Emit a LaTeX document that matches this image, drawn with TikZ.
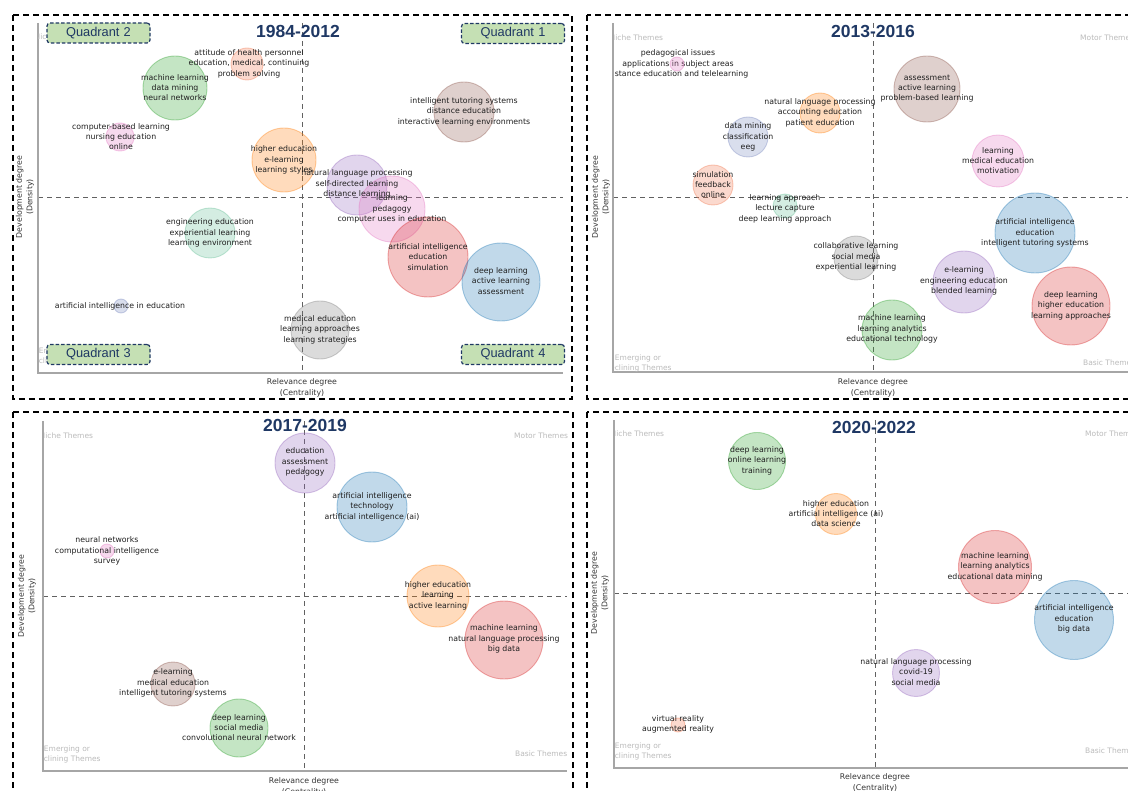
\documentclass[tikz,border=0pt]{standalone}
\usepackage{fontspec}
\setmainfont{DejaVu Sans}
\newfontfamily\qfont{Liberation Sans}
\definecolor{navy}{RGB}{31,56,100}
\definecolor{qgreen}{RGB}{197,224,180}
\definecolor{cblue}{RGB}{31,119,180}
\definecolor{corange}{RGB}{255,127,14}
\definecolor{cgreen}{RGB}{44,160,44}
\definecolor{cred}{RGB}{214,39,40}
\definecolor{cpurple}{RGB}{148,103,189}
\definecolor{cbrown}{RGB}{140,86,75}
\definecolor{cpink}{RGB}{227,119,194}
\definecolor{cgray}{RGB}{127,127,127}
\definecolor{cteal}{RGB}{100,190,150}
\definecolor{clav}{RGB}{120,135,190}
\definecolor{csalmon}{RGB}{240,120,80}
\tikzset{
  frame/.style={draw=black, line width=1.4pt, dash pattern=on 6pt off 4pt},
  axisln/.style={draw=black!35, line width=1.3pt},
  midln/.style={draw=black!62, line width=0.9pt, dash pattern=on 5pt off 4pt},
  bubble/.style={circle, inner sep=0pt, minimum size=#1, line width=0.9pt, fill opacity=0.28, draw opacity=0.38},
  lbl/.style={align=center, font=\fontsize{7.8}{10.4}\selectfont, text=black!88, inner sep=0pt},
  theme/.style={font=\fontsize{7.5}{10}\selectfont, text=black!27, inner sep=0pt},
  themeblk/.style={align=center, font=\fontsize{7.5}{10}\selectfont, text=black!27, inner sep=0pt},
  axlbl/.style={align=center, font=\fontsize{7.8}{10.4}\selectfont, text=black!80, inner sep=0pt},
  ttl/.style={font=\qfont\bfseries\fontsize{17.5}{18}\selectfont, text=navy, inner sep=0pt},
  quad/.style={draw=navy, line width=1.2pt, dash pattern=on 3.5pt off 2pt, rounded corners=3pt, fill=qgreen, minimum width=103pt, minimum height=20pt, font=\qfont\fontsize{12.8}{13}\selectfont, text=navy, inner sep=0pt},
}
\begin{document}
\begin{tikzpicture}[x=1pt,y=-1pt]
\useasboundingbox (0,0) rectangle (1128,791);
\clip (0,0) rectangle (1128,791);
% ---------- frames ----------
\draw[frame] (13,15) rectangle (572,399);
\draw[frame] (587,15) rectangle (1145,399);
\draw[frame] (13,412) rectangle (573,805);
\draw[frame] (587,412) rectangle (1145,805);
% ---------- axes and midlines ----------
% panel 1
\coordinate (p1tl) at (38,23); \coordinate (p1bl) at (38,373); \coordinate (p1br) at (563,373);
\coordinate (p1ml) at (38,197); \coordinate (p1mr) at (563,197);
\coordinate (p1mt) at (302,23); \coordinate (p1mb) at (302,373);
\draw[midln] (p1ml) -- (p1mr);
\draw[midln] (p1mt) -- (p1mb);
\draw[axisln] (p1tl) -- (p1bl) -- (p1br);
% panel 2
\coordinate (p2tl) at (613,23); \coordinate (p2bl) at (613,372); \coordinate (p2br) at (1140,372);
\coordinate (p2ml) at (613,197); \coordinate (p2mr) at (1140,197);
\coordinate (p2mt) at (873,23); \coordinate (p2mb) at (873,372);
\draw[midln] (p2ml) -- (p2mr);
\draw[midln] (p2mt) -- (p2mb);
\draw[axisln] (p2tl) -- (p2bl) -- (p2br);
% panel 3
\coordinate (p3tl) at (43,421); \coordinate (p3bl) at (43,771); \coordinate (p3br) at (567,771);
\coordinate (p3ml) at (43,596); \coordinate (p3mr) at (567,596);
\coordinate (p3mt) at (304,421); \coordinate (p3mb) at (304,771);
\draw[midln] (p3ml) -- (p3mr);
\draw[midln] (p3mt) -- (p3mb);
\draw[axisln] (p3tl) -- (p3bl) -- (p3br);
% panel 4
\coordinate (p4tl) at (614,420); \coordinate (p4bl) at (614,768); \coordinate (p4br) at (1140,768);
\coordinate (p4ml) at (614,593); \coordinate (p4mr) at (1140,593);
\coordinate (p4mt) at (875,420); \coordinate (p4mb) at (875,768);
\draw[midln] (p4ml) -- (p4mr);
\draw[midln] (p4mt) -- (p4mb);
\draw[axisln] (p4tl) -- (p4bl) -- (p4br);
% ---------- axis labels ----------
\node[axlbl] (p1x) at (302,388) {Relevance degree\\(Centrality)};
\node[axlbl, rotate=90] (p1y) at (25,197) {Development degree\\(Density)};
\node[axlbl] (p2x) at (873,388) {Relevance degree\\(Centrality)};
\node[axlbl, rotate=90] (p2y) at (601,197) {Development degree\\(Density)};
\node[axlbl] (p3x) at (304,787) {Relevance degree\\(Centrality)};
\node[axlbl, rotate=90] (p3y) at (27,596) {Development degree\\(Density)};
\node[axlbl] (p4x) at (875,783) {Relevance degree\\(Centrality)};
\node[axlbl, rotate=90] (p4y) at (600,593) {Development degree\\(Density)};
% ---------- theme labels (clipped to plot areas) ----------
\begin{scope}
\clip (38,23) rectangle (563,373);
\node[theme, anchor=west] (p1n) at (34.5,37) {Niche Themes};
\node[themeblk] (p1e) at (62,356) {Emerging or\\Declining Themes};
\end{scope}
\begin{scope}
\clip (614,23) rectangle (1140,372);
\node[theme, anchor=west] (p2n) at (609.5,38) {Niche Themes};
\node[theme, anchor=west] (p2m) at (1080,38) {Motor Themes};
\node[themeblk] (p2e) at (638,363) {Emerging or\\Declining Themes};
\node[theme, anchor=west] (p2b) at (1083,363) {Basic Themes};
\node[lbl] (b1t) at (678,64) {pedagogical issues\\applications in subject areas\\distance education and telelearning};
\end{scope}
\begin{scope}
\clip (44,421) rectangle (567,771);
\node[theme, anchor=west] (p3n) at (39.5,436) {Niche Themes};
\node[theme, anchor=west] (p3m) at (514,436) {Motor Themes};
\node[themeblk] (p3e) at (67,754) {Emerging or\\Declining Themes};
\node[theme, anchor=west] (p3b) at (515,754) {Basic Themes};
\end{scope}
\begin{scope}
\clip (615,420) rectangle (1140,768);
\node[theme, anchor=west] (p4n) at (610.5,434) {Niche Themes};
\node[theme, anchor=west] (p4m) at (1085,434) {Motor Themes};
\node[themeblk] (p4e) at (638,751) {Emerging or\\Declining Themes};
\node[theme, anchor=west] (p4b) at (1085,751) {Basic Themes};
\end{scope}
% ---------- bubbles panel 1 ----------
\node[bubble=32, fill=csalmon, draw=csalmon] (a1) at (247,64) {};
\node[bubble=64, fill=cgreen, draw=cgreen] (a2) at (175,88) {};
\node[bubble=28, fill=cpink, draw=cpink] (a3) at (120,137) {};
\node[bubble=64, fill=corange, draw=corange] (a4) at (284,160) {};
\node[bubble=60, fill=cbrown, draw=cbrown] (a5) at (464,112) {};
\node[bubble=60, fill=cpurple, draw=cpurple] (a6) at (357,185) {};
\node[bubble=66, fill=cpink, draw=cpink] (a7) at (392,209) {};
\node[bubble=80, fill=cred, draw=cred] (a8) at (428,257) {};
\node[bubble=78, fill=cblue, draw=cblue] (a9) at (501,282) {};
\node[bubble=50, fill=cteal, draw=cteal] (a10) at (210,233) {};
\node[bubble=14, fill=clav, draw=clav] (a11) at (121,306) {};
\node[bubble=58, fill=cgray, draw=cgray] (a12) at (320,330) {};
% ---------- bubbles panel 2 ----------
\node[bubble=14, fill=cpink, draw=cpink] (b1) at (677,64) {};
\node[bubble=40, fill=corange, draw=corange] (b2) at (820,113) {};
\node[bubble=40, fill=clav, draw=clav] (b3) at (748,137) {};
\node[bubble=40, fill=csalmon, draw=csalmon] (b4) at (713,185) {};
\node[bubble=24, fill=cteal, draw=cteal] (b5) at (785,206) {};
\node[bubble=66, fill=cbrown, draw=cbrown] (b6) at (927,89) {};
\node[bubble=52, fill=cpink, draw=cpink] (b7) at (998,161) {};
\node[bubble=80, fill=cblue, draw=cblue] (b8) at (1035,233) {};
\node[bubble=44, fill=cgray, draw=cgray] (b9) at (856,258) {};
\node[bubble=62, fill=cpurple, draw=cpurple] (b10) at (964,282) {};
\node[bubble=78, fill=cred, draw=cred] (b11) at (1071,306) {};
\node[bubble=60, fill=cgreen, draw=cgreen] (b12) at (892,330) {};
% ---------- bubbles panel 3 ----------
\node[bubble=60, fill=cpurple, draw=cpurple] (c1) at (305,463) {};
\node[bubble=70, fill=cblue, draw=cblue] (c2) at (372,507) {};
\node[bubble=14, fill=cpink, draw=cpink] (c3) at (107,551) {};
\node[bubble=62, fill=corange, draw=corange] (c4) at (438,596) {};
\node[bubble=78, fill=cred, draw=cred] (c5) at (504,640) {};
\node[bubble=44, fill=cbrown, draw=cbrown] (c6) at (173,684) {};
\node[bubble=58, fill=cgreen, draw=cgreen] (c7) at (239,728) {};
% ---------- bubbles panel 4 ----------
\node[bubble=57, fill=cgreen, draw=cgreen] (d1) at (757,461) {};
\node[bubble=41, fill=corange, draw=corange] (d2) at (836,514) {};
\node[bubble=73, fill=cred, draw=cred] (d3) at (995,567) {};
\node[bubble=79, fill=cblue, draw=cblue] (d4) at (1074,620) {};
\node[bubble=47, fill=cpurple, draw=cpurple] (d5) at (916,673) {};
\node[bubble=14, fill=csalmon, draw=csalmon] (d6) at (678,725) {};
% ---------- labels panel 1 ----------
\node[lbl] (a1t) at (249,63.5) {attitude of health personnel\\education, medical, continuing\\problem solving};
\node[lbl] (a2t) at (175,87.5) {machine learning\\data mining\\neural networks};
\node[lbl] (a3t) at (121,136.5) {computer-based learning\\nursing education\\online};
\node[lbl] (a4t) at (284,160) {higher education\\e-learning\\learning styles};
\node[lbl] (a5t) at (464,111.5) {intelligent tutoring systems\\distance education\\interactive learning environments};
\node[lbl] (a6t) at (357,184) {natural language processing\\self-directed learning\\distance learning};
\node[lbl] (a7t) at (392,209) {learning\\pedagogy\\computer uses in education};
\node[lbl] (a8t) at (428,257) {artificial intelligence\\education\\simulation};
\node[lbl] (a9t) at (501,281) {deep learning\\active learning\\assessment};
\node[lbl] (a10t) at (210,233) {engineering education\\experiential learning\\learning environment};
\node[lbl] (a11t) at (120,306) {artificial intelligence in education};
\node[lbl] (a12t) at (320,329.5) {medical education\\learning approaches\\learning strategies};
% ---------- labels panel 2 ----------
\node[lbl] (b2t) at (820,112.5) {natural language processing\\accounting education\\patient education};
\node[lbl] (b3t) at (748,137) {data mining\\classification\\eeg};
\node[lbl] (b4t) at (713,184.5) {simulation\\feedback\\online};
\node[lbl] (b5t) at (785,208.5) {learning approach\\lecture capture\\deep learning approach};
\node[lbl] (b6t) at (927,88.5) {assessment\\active learning\\problem-based learning};
\node[lbl] (b7t) at (998,160.5) {learning\\medical education\\motivation};
\node[lbl] (b8t) at (1035,233) {artificial intelligence\\education\\intelligent tutoring systems};
\node[lbl] (b9t) at (856,257) {collaborative learning\\social media\\experiential learning};
\node[lbl] (b10t) at (964,281) {e-learning\\engineering education\\blended learning};
\node[lbl] (b11t) at (1071,305.5) {deep learning\\higher education\\learning approaches};
\node[lbl] (b12t) at (892,329) {machine learning\\learning analytics\\educational technology};
% ---------- labels panel 3 ----------
\node[lbl] (c1t) at (305,462) {education\\assessment\\pedagogy};
\node[lbl] (c2t) at (372,506.5) {artificial intelligence\\technology\\artificial intelligence (ai)};
\node[lbl] (c3t) at (107,551) {neural networks\\computational intelligence\\survey};
\node[lbl] (c4t) at (438,595.5) {higher education\\learning\\active learning};
\node[lbl] (c5t) at (504,639) {machine learning\\natural language processing\\big data};
\node[lbl] (c6t) at (173,683) {e-learning\\medical education\\intelligent tutoring systems};
\node[lbl] (c7t) at (239,727.5) {deep learning\\social media\\convolutional neural network};
% ---------- labels panel 4 ----------
\node[lbl] (d1t) at (757,460.5) {deep learning\\online learning\\training};
\node[lbl] (d2t) at (836,513.5) {higher education\\artificial intelligence (ai)\\data science};
\node[lbl] (d3t) at (995,566.5) {machine learning\\learning analytics\\educational data mining};
\node[lbl] (d4t) at (1074,619) {artificial intelligence\\education\\big data};
\node[lbl] (d5t) at (916,672) {natural language processing\\covid-19\\social media};
\node[lbl] (d6t) at (678,724.5) {virtual reality\\augmented reality};
% ---------- titles ----------
\node[ttl] (t1) at (298,31) {1984-2012};
\node[ttl] (t2) at (873,31) {2013-2016};
\node[ttl] (t3) at (305,425) {2017-2019};
\node[ttl] (t4) at (874,427) {2020-2022};
% ---------- quadrant boxes ----------
\node[quad] (q2) at (98.5,33) {Quadrant\,\,2};
\node[quad] (q1) at (513,33.5) {Quadrant\,\,1};
\node[quad] (q3) at (98.5,354.5) {Quadrant\,\,3};
\node[quad] (q4) at (513,354.5) {Quadrant\,\,4};
\end{tikzpicture}
\end{document}
